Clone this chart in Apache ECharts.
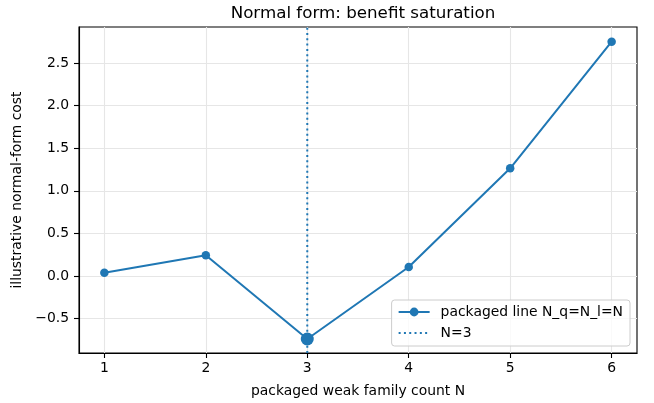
<!DOCTYPE html>
<html>
<head>
<meta charset="utf-8">
<script src="https://cdn.jsdelivr.net/npm/echarts@6/dist/echarts.min.js"></script>
<style>html,body{margin:0;padding:0;background:#fff}#c{width:654px;height:403px}</style>
</head>
<body>
<div id="c"></div>
<script>
var counts = [1, 2, 3, 4, 5, 6];
var costs = [0.039, 0.243, -0.74, 0.106, 1.264, 2.75];
var markN = 3;
var xTicks = [1, 2, 3, 4, 5, 6];
var yTicks = [-0.5, 0.0, 0.5, 1.0, 1.5, 2.0, 2.5];
var xMin = 0.75, xMax = 6.25;
var yMin = -0.904, yMax = 2.922;

var blue = '#1f77b4';
var font = 'DejaVu Sans';
var fs = 13.9;
var chart = echarts.init(document.getElementById('c'), null, {renderer: 'canvas'});

var lineData = counts.map(function (n, i) {
  var item = {value: [n, costs[i]]};
  if (n === markN) item.symbolSize = 13;
  return item;
});

chart.setOption({
  animation: false,
  backgroundColor: '#fff',
  textStyle: {fontFamily: font},
  title: {
    text: 'Normal form: benefit saturation',
    left: 358, top: 0, textAlign: 'center',
    textStyle: {fontFamily: font, fontSize: 16.7, fontWeight: 'normal', color: '#000'}
  },
  grid: {left: 79, right: 17, top: 27, bottom: 50, show: true, borderColor: '#000', borderWidth: 1.1, backgroundColor: 'transparent'},
  legend: {
    orient: 'vertical', right: 24, top: 300,
    itemWidth: 31, itemHeight: 11, itemGap: 5,
    padding: [4, 7, 5, 6],
    backgroundColor: 'rgba(255,255,255,0.8)', borderColor: '#cccccc', borderWidth: 1, borderRadius: 3,
    textStyle: {fontFamily: font, fontSize: fs, color: '#000', lineHeight: 16, padding: [0, 0, 0, 6]},
    data: [
      {name: 'packaged line N_q=N_l=N'},
      {name: 'N=' + markN, itemStyle: {opacity: 0}}
    ]
  },
  xAxis: {
    type: 'value', min: xMin, max: xMax,
    name: 'packaged weak family count N', nameLocation: 'middle', nameGap: 31,
    nameTextStyle: {fontFamily: font, fontSize: fs, color: '#000'},
    axisLine: {show: true, onZero: false, lineStyle: {color: '#000', width: 1.1}},
    axisTick: {show: true, length: 5, customValues: xTicks, lineStyle: {color: '#000', width: 1.1}},
    axisLabel: {customValues: xTicks, margin: 8, fontFamily: font, fontSize: fs, color: '#000'},
    splitLine: {show: true, lineStyle: {color: '#e6e6e6', width: 1.1}}
  },
  yAxis: {
    type: 'value', min: yMin, max: yMax,
    name: 'illustrative normal-form cost', nameLocation: 'middle', nameGap: 46, nameRotate: 90,
    nameTextStyle: {fontFamily: font, fontSize: fs, color: '#000'},
    axisLine: {show: true, onZero: false, lineStyle: {color: '#000', width: 1.1}},
    axisTick: {show: true, length: 5, customValues: yTicks, lineStyle: {color: '#000', width: 1.1}},
    axisLabel: {customValues: yTicks, margin: 10, fontFamily: font, fontSize: fs, color: '#000',
      formatter: function (v) { var s = v.toFixed(1); return s.charAt(0) === '-' ? '\u2212' + s.slice(1) : s; }},
    splitLine: {show: true, lineStyle: {color: '#e6e6e6', width: 1.1}}
  },
  series: [
    {
      name: 'N=' + markN, type: 'line',
      data: [[markN, yMin], [markN, yMax]],
      showSymbol: false, symbol: 'none',
      lineStyle: {color: blue, width: 2, type: [2, 3.3]},
      itemStyle: {color: blue},
      z: 1, silent: true
    },
    {
      name: 'packaged line N_q=N_l=N', type: 'line',
      data: lineData,
      symbol: 'circle', symbolSize: 8.5,
      lineStyle: {color: blue, width: 2},
      itemStyle: {color: blue},
      z: 3
    }
  ]
});
</script>
</body>
</html>
